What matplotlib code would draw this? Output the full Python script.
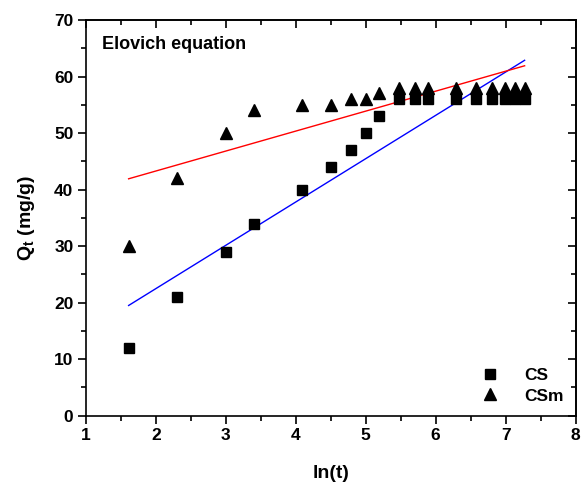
import numpy as np
import matplotlib
matplotlib.use("Agg")
import matplotlib.pyplot as plt
from matplotlib.ticker import MultipleLocator

plt.rcParams['font.family'] = ['Liberation Sans', 'DejaVu Sans']
plt.rcParams['font.weight'] = 'bold'
plt.rcParams['mathtext.fontset'] = 'custom'
plt.rcParams['mathtext.rm'] = 'Liberation Sans:bold'
plt.rcParams['mathtext.bf'] = 'Liberation Sans:bold'
plt.rcParams['mathtext.it'] = 'Liberation Sans:bold'

# data
t_min = [5, 10, 20, 30, 60, 90, 120, 150, 180, 240, 300, 360, 540, 720, 900, 1080, 1260, 1440]
ln_t = np.log(np.array(t_min, dtype=float))
cs = [12, 21, 29, 34, 40, 44, 47, 50, 53, 56, 56, 56, 56, 56, 56, 56, 56, 56]
csm = [30, 42, 50, 54, 55, 55, 56, 56, 57, 58, 58, 58, 58, 58, 58, 58, 58, 58]

fig = plt.figure(figsize=(5.81, 4.86), dpi=100)
ax = fig.add_axes([86/581, 1-415.7/486, (575.5-86)/581, (415.7-20)/486])

# fitted lines (linear regression of Q on ln t)
for y, c in ((cs, 'blue'), (csm, 'red')):
    p = np.polyfit(ln_t, y, 1)
    xx = np.array([ln_t.min(), ln_t.max()])
    ax.plot(xx, np.polyval(p, xx), color=c, lw=1.0, zorder=2)

ax.plot(ln_t, cs, 's', color='black', ms=7, ls='none', label='CS', zorder=3)
ax.plot(ln_t, csm, '^', color='black', ms=8.5, ls='none', label='CSm', zorder=3)

ax.set_xlim(1, 8)
ax.set_ylim(0, 70)
ax.xaxis.set_major_locator(MultipleLocator(1))
ax.xaxis.set_minor_locator(MultipleLocator(0.5))
ax.yaxis.set_major_locator(MultipleLocator(10))
ax.yaxis.set_minor_locator(MultipleLocator(5))

for s in ax.spines.values():
    s.set_linewidth(1.2)

ax.tick_params(which='both', direction='out', top=False, right=False, width=1.2, labelsize=12.5)
ax.tick_params(which='major', length=6, pad=3)
ax.tick_params(which='minor', length=3.5)

# mirrored top/right ticks pointing inward
axt = ax.secondary_xaxis('top')
axt.xaxis.set_major_locator(MultipleLocator(1))
axt.xaxis.set_minor_locator(MultipleLocator(0.5))
axt.tick_params(which='both', direction='in', labeltop=False, width=1.2)
axt.tick_params(which='major', length=6)
axt.tick_params(which='minor', length=3.5)
axr = ax.secondary_yaxis('right')
axr.yaxis.set_major_locator(MultipleLocator(10))
axr.yaxis.set_minor_locator(MultipleLocator(5))
axr.tick_params(which='both', direction='in', labelright=False, width=1.2)
axr.tick_params(which='major', length=6)
axr.tick_params(which='minor', length=3.5)
for a in (axt, axr):
    for s in a.spines.values():
        s.set_linewidth(1.2)

ax.set_xlabel('ln(t)', fontsize=14, fontweight='bold', labelpad=16)
ax.set_ylabel('Q$_\\mathrm{t}$ (mg/g)', fontsize=14, fontweight='bold', labelpad=12)

ax.text(0.032, 0.937, 'Elovich equation', transform=ax.transAxes, fontsize=13,
        fontweight='bold', va='center', ha='left')

leg = ax.legend(loc='lower right', frameon=False, fontsize=12.5, handletextpad=1.2,
                borderaxespad=0.3, labelspacing=0.3, handlelength=1.5)

fig.savefig('out.png', dpi=100)
